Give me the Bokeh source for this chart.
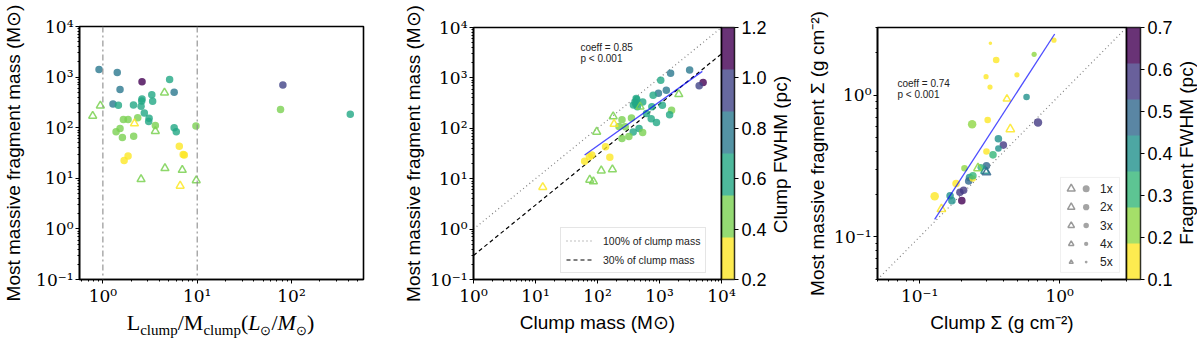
import math
from bokeh.plotting import figure
from bokeh.layouts import row, column
from bokeh.models import (Range1d, FixedTicker, CustomJSTickFormatter, Span, Label, Legend,
                          LegendItem, ColorBar, LinearColorMapper, BoxAnnotation, LinearScale,
                          ColumnDataSource, PrintfTickFormatter, Div)
from bokeh.transform import transform
from bokeh.core.properties import value
from bokeh.embed import file_html
from bokeh.resources import INLINE

# ---------------- data ----------------
# Panel 1: L/M of clump vs most massive fragment mass (colour = clump FWHM)
p1_circ_lm = [0.91, 1.42, 2.60, 5.1, 1.52, 5.7, 3.3, 2.6, 2.58, 3.37, 1.28, 1.46, 2.11, 2.54, 2.75, 3.09, 3.06,
              1.65, 1.85, 2.34, 3.6, 1.52, 1.38, 1.61, 2.12, 5.7, 6.0, 9.7, 6.46, 7.3, 7.1, 1.85, 1.68,
              76.5, 81, 420]
p1_circ_mfrag = [1413, 1236, 809, 900, 572, 500, 450, 369, 337, 333, 294, 277, 282, 264, 196, 154, 132,
                 145, 145, 158, 110, 96, 83, 64, 68, 100, 83, 108, 43, 29, 29.5, 27.5, 22.6,
                 228, 697, 185]
p1_circ_fwhm = [0.80, 0.78, 1.12, 0.63, 0.76, 0.74, 0.64, 0.60, 0.58, 0.62, 0.75, 0.66, 0.62, 0.57, 0.61, 0.62, 0.63,
                0.45, 0.44, 0.48, 0.47, 0.42, 0.43, 0.46, 0.44, 0.65, 0.61, 0.45, 0.30, 0.28, 0.32, 0.29, 0.27,
                0.50, 0.95, 0.64]
p1_tri_lm = [0.78, 0.94, 4.5, 2.16, 3.6, 4.55, 6.95, 2.54, 9.77, 6.6]
p1_tri_mfrag = [171, 273, 492, 121, 85.5, 15.8, 14.6, 9.6, 9.1, 7.1]
p1_tri_fwhm = [0.45, 0.46, 0.44, 0.30, 0.45, 0.43, 0.47, 0.44, 0.46, 0.31]
p1_vlines = [1, 10]

# Panel 2: clump mass vs most massive fragment mass
p2_circ_mclump = [3063, 1510, 1047, 1288, 961, 790, 5050, 4365, 430, 536,
                  380, 440, 753, 1112, 1566, 1456, 735, 893, 468, 376,
                  535, 353, 248, 222, 280, 321, 248, 617,
                  62, 74, 81, 135, 158, 404, 415, 420]
p2_circ_mfrag = [1432, 1232, 900, 567, 495, 454, 811, 698, 373, 331,
                 290, 269, 269, 286, 228, 185, 155, 131, 99, 84,
                 83, 160, 148, 108, 107, 69, 63, 197,
                 22.2, 27.4, 29.5, 43, 26.6, 331, 300, 390]
p2_circ_fwhm = [0.80, 0.78, 0.63, 0.76, 0.74, 0.64, 1.12, 0.95, 0.60, 0.62,
                0.58, 0.57, 0.61, 0.66, 0.50, 0.64, 0.62, 0.63, 0.65, 0.61,
                0.45, 0.48, 0.44, 0.47, 0.45, 0.46, 0.44, 0.61,
                0.27, 0.29, 0.28, 0.30, 0.32, 0.62, 0.66, 0.60]
p2_tri_mclump = [2047, 485, 179, 185, 97, 174, 115, 75, 86, 13.1]
p2_tri_mfrag = [474, 269, 172, 122, 85, 15.3, 14.5, 9.5, 8.8, 6.8]
p2_tri_fwhm = [0.44, 0.46, 0.45, 0.30, 0.45, 0.43, 0.47, 0.44, 0.46, 0.31]
p2_fit_x = [62, 4900]
p2_fit_y = [29.5, 1349]
ref_x = [1, 1e4]
ref_fracs = [1.0, 0.3]
ref_labels = ["100% of clump mass", "30% of clump mass"]
p2_stats = ["coeff = 0.85", "p < 0.001"]

# Panel 3: clump surface density vs fragment surface density (colour = fragment FWHM, size = multiplicity)
p3_circ_sclump = [0.32, 0.352, 0.298, 0.318, 0.495, 0.657, 0.91, 0.58, 0.306, 0.237,
                  0.70, 0.365, 0.396, 0.365, 0.30, 0.334, 0.209, 0.30, 0.273, 0.227,
                  0.224, 0.239, 0.182, 0.128, 0.165, 0.17, 0.194, 0.206, 0.20, 0.24]
p3_circ_sfrag = [2.32, 1.77, 1.35, 1.14, 1.39, 1.94, 2.44, 0.97, 0.667, 0.624,
                 0.641, 0.492, 0.444, 0.42, 0.40, 0.379, 0.305, 0.317, 0.31, 0.262,
                 0.248, 0.258, 0.238, 0.193, 0.195, 0.18, 0.206, 0.213, 0.18, 0.27]
p3_circ_fwhm = [0.12, 0.14, 0.13, 0.15, 0.12, 0.22, 0.14, 0.40, 0.15, 0.23,
                0.57, 0.41, 0.56, 0.39, 0.17, 0.31, 0.24, 0.48, 0.30, 0.38,
                0.50, 0.16, 0.14, 0.13, 0.40, 0.42, 0.55, 0.58, 0.66, 0.32]
p3_circ_mult = [5, 3, 4, 4, 4, 4, 4, 3, 3, 1,
                1, 2, 2, 3, 3, 2, 3, 2, 3, 2,
                2, 3, 2, 1, 2, 2, 2, 2, 2, 2]
p3_tri_sclump = [0.42, 0.444, 0.261, 0.293, 0.30, 0.143]
p3_tri_sfrag = [0.94, 0.575, 0.305, 0.292, 0.285, 0.157]
p3_tri_fwhm = [0.16, 0.13, 0.25, 0.42, 0.47, 0.15]
p3_tri_mult = [3, 2, 2, 2, 2, 2]
p3_fit_x = [0.128, 0.921]
p3_fit_y = [0.133, 2.70]
p3_one_to_one = [0.05, 3.0]
p3_stats = ["coeff = 0.74", "p < 0.001"]
mult_labels = ["1x", "2x", "3x", "4x", "5x"]

# colour bars
cb2_low, cb2_high = 0.2, 1.2
cb2_ticks = [0.2, 0.4, 0.6, 0.8, 1.0, 1.2]
cb2_title = "Clump FWHM (pc)"
cb3_low, cb3_high = 0.1, 0.7
cb3_ticks = [0.1, 0.2, 0.3, 0.4, 0.5, 0.6, 0.7]
cb3_title = "Fragment FWHM (pc)"
pal6 = ["#fde725", "#7ad151", "#22a884", "#2a788e", "#414487", "#440154"]
pal7 = ["#fde725", "#8fd744", "#35b779", "#21918c", "#31688e", "#443983", "#440154"]

# ---------------- styling helpers ----------------
SUP_JS = r"""
const m = {"-": "\u207b", "0": "\u2070", "1": "\u00b9", "2": "\u00b2", "3": "\u00b3",
           "4": "\u2074", "5": "\u2075", "6": "\u2076", "7": "\u2077", "8": "\u2078", "9": "\u2079"};
const e = Math.round(Math.log10(tick));
return "10" + String(e).split("").map(c => m[c]).join("");
"""

SANS = "Liberation Sans"
SERIF = "DejaVu Serif"
H = 340


def decades(lo, hi):
    return [10.0 ** e for e in range(lo, hi + 1)]


def minors(lo, hi):
    return [m * 10.0 ** e for e in range(lo, hi) for m in range(2, 10)]


def style(p, xt, xm, yt, ym):
    p.xgrid.visible = False
    p.ygrid.visible = False
    p.outline_line_color = "black"
    p.outline_line_width = 1.6
    p.outline_line_alpha = 1.0
    for ax, t, mn in ((p.xaxis[0], xt, xm), (p.yaxis[0], yt, ym)):
        ax.ticker = FixedTicker(ticks=t, minor_ticks=mn)
        ax.formatter = CustomJSTickFormatter(code=SUP_JS)
        ax.major_label_text_font = SERIF
        ax.major_label_text_font_size = "17px"
        ax.major_label_text_color = "black"
        ax.major_tick_out = 4
        ax.major_tick_in = 0
        ax.minor_tick_out = 2
        ax.minor_tick_in = 0
        ax.major_tick_line_color = "black"
        ax.minor_tick_line_color = "black"
        ax.axis_line_color = "black"
        ax.axis_line_width = 1.6
        ax.major_label_standoff = 2
        ax.axis_label_standoff = 3
        ax.axis_label_text_font = SANS
        ax.axis_label_text_font_size = "19px"
        ax.axis_label_text_font_style = "normal"
        ax.axis_label_text_color = "black"


def stats_labels(p, texts, x, y0, dy):
    for i, t in enumerate(texts):
        p.add_layout(Label(x=x, y=y0 - i * dy, x_units="screen", y_units="screen", text=t,
                           text_font=SANS, text_font_size="10px", text_color="#222222",
                           text_baseline="alphabetic"))


def colorbar(p, mapper, ticks, width, margin):
    cb = ColorBar(color_mapper=mapper, ticker=FixedTicker(ticks=ticks),
                  formatter=PrintfTickFormatter(format="%.1f"), width=width,
                  padding=0, margin=margin, location="top_left", scale_alpha=0.8,
                  major_label_text_font=SANS, major_label_text_font_size="18px",
                  major_label_text_color="black", major_tick_in=0, major_tick_out=4,
                  major_tick_line_color="black", minor_tick_line_color=None,
                  bar_line_color="black", bar_line_width=1.5, label_standoff=3,
                  border_line_color=None, background_fill_color=None)
    p.add_layout(cb, "right")


def vertical_title(text, frame_top, frame_h, width):
    html = ('<div style="height:%dpx;margin-top:%dpx;width:%dpx;display:flex;'
            'align-items:center;justify-content:center;">'
            '<span style="writing-mode:vertical-rl;transform:rotate(180deg);'
            'font-family:\'Liberation Sans\',sans-serif;font-size:19px;line-height:22px;'
            'color:black;white-space:nowrap;">%s</span></div>') % (frame_h, frame_top, width, text)
    return Div(text=html, width=width, height=H, margin=0)


mapper2 = LinearColorMapper(palette=pal6, low=cb2_low, high=cb2_high)
mapper3 = LinearColorMapper(palette=pal7, low=cb3_low, high=cb3_high)

# ---------------- panel 1 ----------------
p1 = figure(width=400, height=310, x_axis_type="log", y_axis_type="log",
            x_range=Range1d(0.565, 580), y_range=Range1d(0.1, 1e4),
            output_backend="svg", toolbar_location=None,
            min_border_left=78, min_border_right=37, min_border_top=26, min_border_bottom=31)
style(p1, decades(0, 2), minors(-1, 3), decades(-1, 4), minors(-1, 4))
p1.yaxis.axis_label = "Most massive fragment mass (M⊙)"
p1.yaxis.axis_label_standoff = 9
for v in p1_vlines:
    p1.add_layout(Span(location=v, dimension="height", line_color="#8c8c8c",
                       line_dash="6 3 2 3", line_width=1.1))
s1c = ColumnDataSource(dict(x=p1_circ_lm, y=p1_circ_mfrag, f=p1_circ_fwhm))
s1t = ColumnDataSource(dict(x=p1_tri_lm, y=p1_tri_mfrag, f=p1_tri_fwhm))
p1.scatter("x", "y", source=s1c, marker="circle", size=7.5, fill_color=transform("f", mapper2),
           fill_alpha=0.8, line_color=None)
p1.scatter("x", "y", source=s1t, marker="triangle", size=8, fill_color=None,
           line_color=transform("f", mapper2), line_alpha=0.85, line_width=1.5)
x1_label_html = (
    '<div style="width:285px;margin-left:78px;padding-top:3px;text-align:center;white-space:nowrap;'
    'font-family:\'Liberation Serif\',serif;font-size:22px;line-height:20px;color:black;">'
    'L<sub style="font-size:15px;line-height:0">clump</sub>/M'
    '<sub style="font-size:15px;line-height:0">clump</sub>('
    '<i>L</i><sub style="font-size:13px;line-height:0">⊙</sub>/'
    '<i>M</i><sub style="font-size:13px;line-height:0">⊙</sub>)</div>')
x1_label = Div(text=x1_label_html, width=400, height=30, margin=0)

# ---------------- panel 2 ----------------
p2 = figure(width=369, height=H, x_axis_type="log", y_axis_type="log",
            x_range=Range1d(1, 1e4), y_range=Range1d(0.1, 1e4),
            output_backend="svg", toolbar_location=None,
            min_border_left=71, min_border_right=46, min_border_top=26, min_border_bottom=57)
style(p2, decades(0, 4), minors(0, 4), decades(-1, 4), minors(-1, 4))
p2.xaxis.axis_label = "Clump mass (M⊙)"
p2.yaxis.axis_label = "Most massive fragment mass (M⊙)"
r100 = p2.line(ref_x, [ref_fracs[0] * v for v in ref_x], line_color="#808080", line_dash="1 3",
               line_width=1.2)
r30 = p2.line(ref_x, [ref_fracs[1] * v for v in ref_x], line_color="black", line_dash="4 3",
              line_width=1.2)
s2c = ColumnDataSource(dict(x=p2_circ_mclump, y=p2_circ_mfrag, f=p2_circ_fwhm))
s2t = ColumnDataSource(dict(x=p2_tri_mclump, y=p2_tri_mfrag, f=p2_tri_fwhm))
p2.scatter("x", "y", source=s2c, marker="circle", size=7.5, fill_color=transform("f", mapper2),
           fill_alpha=0.8, line_color=None)
p2.scatter("x", "y", source=s2t, marker="triangle", size=8, fill_color=None,
           line_color=transform("f", mapper2), line_alpha=0.85, line_width=1.5)
p2.line(p2_fit_x, p2_fit_y, line_color="blue", line_alpha=0.7, line_width=1.3)
leg2 = Legend(items=[LegendItem(label=ref_labels[0], renderers=[r100]),
                     LegendItem(label=ref_labels[1], renderers=[r30])],
              location=(87, 6), label_text_font=SANS, label_text_font_size="10.5px",
              label_text_color="#222222", glyph_width=27, glyph_height=15, label_height=15,
              label_standoff=10, padding=5, spacing=4, border_line_color="#cccccc",
              border_line_width=1, background_fill_alpha=0.8)
p2.add_layout(leg2)
stats_labels(p2, p2_stats, 107, 232, 11)
colorbar(p2, mapper2, cb2_ticks, 13, 2)
t2 = vertical_title(cb2_title, 26, 257, 23)

# ---------------- panel 3 ----------------
p3 = figure(width=383, height=H, x_axis_type="log", y_axis_type="log",
            x_range=Range1d(0.05, 3.0), y_range=Range1d(0.05, 3.0),
            output_backend="svg", toolbar_location=None,
            min_border_left=85, min_border_right=49, min_border_top=27, min_border_bottom=61)
p3.extra_x_ranges = {"lx": Range1d(0, 1)}
p3.extra_y_ranges = {"ly": Range1d(0, 1)}
p3.extra_x_scales = {"lx": LinearScale()}
p3.extra_y_scales = {"ly": LinearScale()}
style(p3, [0.1, 1.0], minors(-2, 1), [0.1, 1.0], minors(-2, 1))
p3.xaxis.axis_label = "Clump Σ (g cm⁻²)"
p3.yaxis.axis_label = "Most massive fragment Σ (g cm⁻²)"
p3.line(p3_one_to_one, p3_one_to_one, line_color="#808080", line_dash="1 3", line_width=1.2)
size_of = {1: 8.5, 2: 7.6, 3: 6.6, 4: 5.2, 5: 3.6}
s3c = ColumnDataSource(dict(x=p3_circ_sclump, y=p3_circ_sfrag, f=p3_circ_fwhm,
                            s=[size_of[m] for m in p3_circ_mult]))
s3t = ColumnDataSource(dict(x=p3_tri_sclump, y=p3_tri_sfrag, f=p3_tri_fwhm,
                            s=[size_of[m] + 1 for m in p3_tri_mult]))
p3.scatter("x", "y", source=s3c, marker="circle", size="s", fill_color=transform("f", mapper3),
           fill_alpha=0.8, line_color=None)
p3.scatter("x", "y", source=s3t, marker="triangle", size="s", fill_color=None,
           line_color=transform("f", mapper3), line_alpha=0.85, line_width=1.5)
p3.line(p3_fit_x, p3_fit_y, line_color="blue", line_alpha=0.7, line_width=1.3)
stats_labels(p3, p3_stats, 20, 196, 11)
# multiplicity key (frame-fraction coordinates)
leg_rows = [0.360, 0.287, 0.214, 0.141, 0.069]
p3.add_layout(BoxAnnotation(left=0.735, right=0.972, bottom=0.028, top=0.405,
                            x_range_name="lx", y_range_name="ly", fill_color="white",
                            fill_alpha=0.8, line_color="#cccccc", line_width=1, level="underlay"))
p3.scatter([0.778] * 5, leg_rows, x_range_name="lx", y_range_name="ly", marker="triangle",
           size=[8, 7.3, 6.5, 5.3, 4.0], fill_color=None, line_color="#9a9a9a", line_width=1.5)
p3.scatter([0.838] * 5, leg_rows, x_range_name="lx", y_range_name="ly", marker="circle",
           size=[7, 6.3, 5.5, 4.3, 2.8], fill_color="#9a9a9a", fill_alpha=0.9, line_color=None)
p3.text([0.894] * 5, leg_rows, text=mult_labels, x_range_name="lx", y_range_name="ly",
        text_font=value(SANS), text_font_size="12px", text_baseline="middle",
        text_align="left", text_color="#222222")
colorbar(p3, mapper3, cb3_ticks, 14, 3)
t3 = vertical_title(cb3_title, 27, 252, 23)

layout = row(column(p1, x1_label, spacing=0), p2, t2, p3, t3, spacing=0)
with open("out.html", "w", encoding="utf-8") as fh:
    fh.write(file_html(layout, INLINE))
